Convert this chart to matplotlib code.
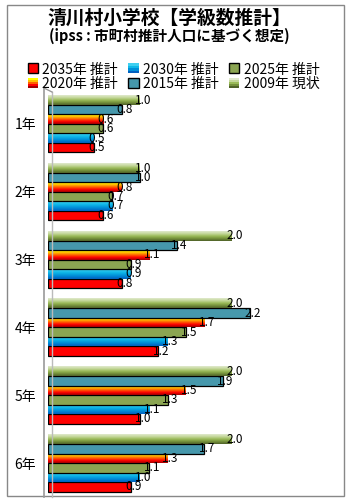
import matplotlib
matplotlib.use('Agg')
import matplotlib.pyplot as plt
import numpy as np
from matplotlib.colors import LinearSegmentedColormap
from matplotlib.patches import Rectangle
from matplotlib.lines import Line2D
from matplotlib.legend_handler import HandlerBase

plt.rcParams['font.family'] = ['Noto Sans CJK JP', 'DejaVu Sans']

# データ
grades = ['1年', '2年', '3年', '4年', '5年', '6年']
series = ['2035年 推計', '2030年 推計', '2025年 推計', '2020年 推計', '2015年 推計', '2009年 現状']
v2035 = [0.5, 0.6, 0.8, 1.2, 1.0, 0.9]
v2030 = [0.5, 0.7, 0.9, 1.3, 1.1, 1.0]
v2025 = [0.6, 0.7, 0.9, 1.5, 1.3, 1.1]
v2020 = [0.6, 0.8, 1.1, 1.7, 1.5, 1.3]
v2015 = [0.8, 1.0, 1.4, 2.2, 1.9, 1.7]
v2009 = [1.0, 1.0, 2.0, 2.0, 2.0, 2.0]
values = [v2035, v2030, v2025, v2020, v2015, v2009]

# 色 (単色 or グラデーション)
styles = [
    {'color': '#FF0000', 'edge': 'black', 'grad': None},
    {'color': '#1AA8E0', 'edge': 'none', 'grad': ['#40D0F0', '#10B8E8', '#0090D8', '#0060C0']},
    {'color': '#8BA552', 'edge': 'black', 'grad': None},
    {'color': '#FF6600', 'edge': 'none', 'grad': ['#FFFF00', '#FFC000', '#FF6000', '#FF0000', '#A00000']},
    {'color': '#4698AC', 'edge': 'black', 'grad': None},
    {'color': '#9BBB59', 'edge': 'none', 'grad': ['#E0EACC', '#C4D79B', '#9BBB59', '#76923C', '#4F6228']},
]

fig = plt.figure(figsize=(3.5, 5), dpi=100)
ax = fig.add_axes([48/350, 3/500, 295/350, 407/500])

h = 0.14
offsets = [2.5*h, 1.5*h, 0.5*h, -0.5*h, -1.5*h, -2.5*h]
y = np.arange(len(grades))

for vals, st, off in zip(values, styles, offsets):
    if st['grad'] is None:
        bars = ax.barh(y + off, vals, height=h, color=st['color'],
                       edgecolor=st['edge'], linewidth=0.9, zorder=2)
    else:
        bars = ax.barh(y + off, vals, height=h, color='none', edgecolor='none', zorder=2)
        cmap = LinearSegmentedColormap.from_list('g', st['grad'])
        grad = np.linspace(0, 1, 32).reshape(-1, 1)
        for r in bars:
            x0, w = r.get_x(), r.get_width()
            y0, hh = r.get_y(), r.get_height()
            ax.imshow(grad, cmap=cmap, aspect='auto', extent=(x0, x0 + w, y0 + hh, y0),
                      interpolation='bilinear', zorder=2)
    for r, v in zip(bars, vals):
        ax.text(v + 0.03, r.get_y() + r.get_height()/2, f'{v:.1f}', ha='center', va='center',
                fontsize=8.5, color='black', zorder=4)

ax.set_xlim(0, 295/92)
ax.set_ylim(len(grades) - 0.5, -0.5)
ax.set_yticks(y)
ax.set_yticklabels(grades, fontsize=10)
ax.tick_params(left=False, bottom=False, labelbottom=False, pad=5)
ax.set_xticks([])
for s in ax.spines.values():
    s.set_visible(False)

# 壁の線
fig.add_artist(Line2D([44/350, 44/350], [3/500, 412/500], color='#999999', lw=1.2))
fig.add_artist(Line2D([52/350, 52/350], [3/500, 408/500], color='#BBBBBB', lw=1.0))
fig.add_artist(Line2D([44/350, 52/350], [412/500, 408/500], color='#999999', lw=1.0))

# 外枠
fig.add_artist(Rectangle((7/350, 4/500), 337/350, 491/500, fill=False,
                         edgecolor='#888888', lw=1.0, transform=fig.transFigure))

fig.text(169/350, 1 - 18/500, '清川村小学校【学級数推計】', ha='center', va='center',
         fontsize=13.5, fontweight='bold')
fig.text(169/350, 1 - 36/500, '(ipss : 市町村推計人口に基づく想定)', ha='center', va='center',
         fontsize=10.5, fontweight='bold')


# 凡例 (グラデーション対応)
class GradHandler(HandlerBase):
    def create_artists(self, legend, orig, xd, yd, width, height, fontsize, trans):
        st = orig.style
        if st['grad'] is None:
            return [Rectangle((xd, yd), width, height, facecolor=st['color'],
                              edgecolor=st['edge'], lw=1.0, transform=trans)]
        cols = st['grad']
        n = len(cols)
        arts = []
        for i, c in enumerate(cols):
            arts.append(Rectangle((xd, yd + height*(n - 1 - i)/n), width, height/n,
                                  facecolor=c, edgecolor='none', transform=trans))
        return arts


handles = []
for st in styles:
    p = Rectangle((0, 0), 1, 1)
    p.style = st
    handles.append(p)

order = [0, 3, 1, 4, 2, 5]
leg = fig.legend([handles[i] for i in order], [series[i] for i in order], ncol=3,
                 loc='upper left', bbox_to_anchor=(22/350, 1 - 57/500), frameon=False,
                 fontsize=10, handlelength=0.75, handleheight=0.75, handletextpad=0.3,
                 columnspacing=0.75, labelspacing=0.05, borderaxespad=0,
                 handler_map={Rectangle: GradHandler()})

fig.savefig('out.png', dpi=100)
